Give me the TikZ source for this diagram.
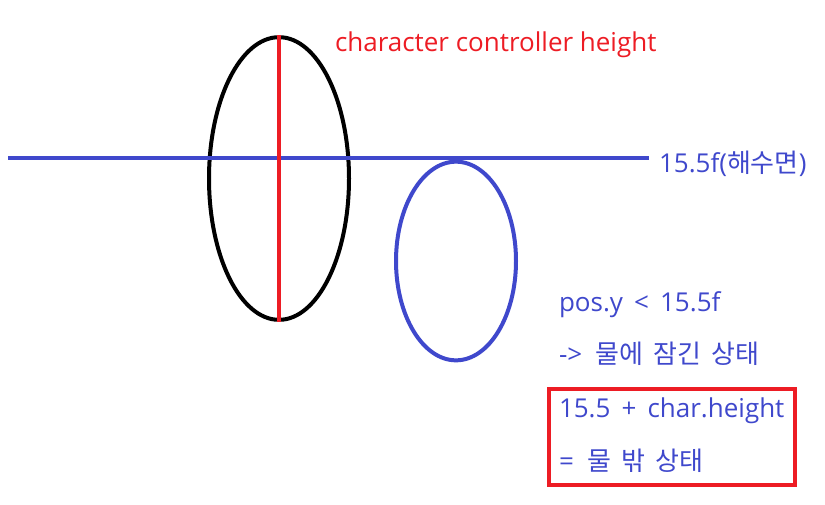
\documentclass[tikz,border=0pt]{standalone}
\usepackage{fontspec}
\setmainfont{Open Sans}
\newfontfamily\kr{Noto Sans CJK KR}
\usetikzlibrary{shapes.geometric}
\definecolor{paintred}{RGB}{237,28,36}
\definecolor{paintblue}{RGB}{63,72,204}
\begin{document}
\begin{tikzpicture}[x=0.75pt, y=-0.75pt, line width=3pt,
  body/.style={ellipse,draw,inner sep=0pt},
  label text/.style={anchor=west,inner sep=0pt,font=\fontsize{19.5}{22}\selectfont}]
\useasboundingbox (0,0) rectangle (825,504);
% capsules
\node[body,draw=black,minimum width=105pt,minimum height=212pt] (char) at (279,178.5) {};
\node[body,draw=paintblue,minimum width=90pt,minimum height=149pt] (water) at (456,261) {};
% sea level
\coordinate (sea l) at (8,158);
\coordinate (sea r) at (649,158);
\draw[paintblue] (sea l) -- (sea r);
\draw[paintred] (char.north) -- (char.south);
% texts
\begin{scope}[every node/.style={label text}]
\node[text=paintred] (hgt) at (333,45) {character controller height};
\node[text=paintblue] (sea) at (657,164) {15.5f({\kr 해수면})};
\node[text=paintblue] (cond) at (557,305) {pos.y \,<\, 15.5f};
\node[text=paintblue] (under) at (557,354) {->\ \ \kr 물에\ \,잠긴\ \,상태};
\node[text=paintblue] (sum) at (557,411) {15.5 \,+\, char.height};
\node[text=paintblue] (out) at (557,461) {=\ \ \kr 물\ \,밖\ \,상태};
\end{scope}
\coordinate (box nw) at (549,389);
\coordinate (box se) at (795,485);
\draw[paintred] (box nw) rectangle (box se);
\end{tikzpicture}
\end{document}
